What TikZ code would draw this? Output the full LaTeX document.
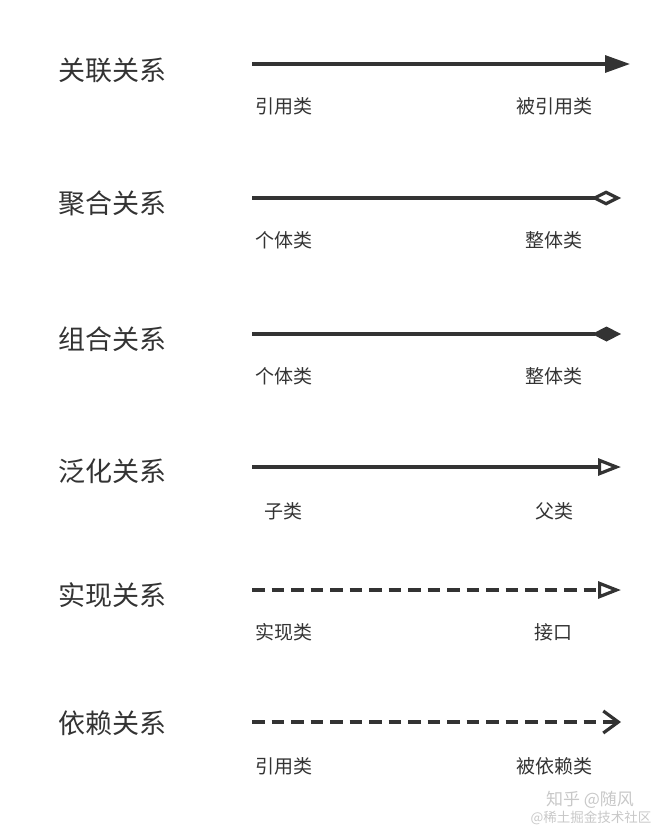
\documentclass[tikz,border=0pt]{standalone}
\usepackage{fontspec}
\setmainfont{Noto Sans CJK SC}
\usetikzlibrary{arrows.meta}
\definecolor{ink}{HTML}{333333}
\definecolor{wm}{HTML}{C8C8C8}
\tikzset{
  title/.style={font=\fontsize{27}{29}\selectfont, text=ink, inner sep=0pt},
  lbl/.style={font=\fontsize{19}{21}\selectfont, text=ink, inner sep=0pt},
  rel/.style={draw=ink, line width=3.2pt},
  dsh/.style={rel, dash pattern=on 12.5pt off 7pt},
  wmark/.style={text=wm, inner sep=0pt}
}
\begin{document}
\begin{tikzpicture}[x=1pt,y=-1pt]
\useasboundingbox (0,0) rectangle (658,830);
% row 1
\node[title] (t1) at (112,70) {关联关系};
\coordinate (s1) at (252,64); \coordinate (e1) at (630,64);
\draw[rel, -{Triangle[length=25pt,width=17pt]}] (s1) -- (e1);
\node[lbl] (l1) at (284,106) {引用类};
\node[lbl] (r1) at (554,106) {被引用类};
% row 2
\node[title] (t2) at (112,203) {聚合关系};
\coordinate (s2) at (252,198); \coordinate (e2) at (621,198);
\draw[rel, -{Diamond[open,length=30pt,width=15pt]}] (s2) -- (e2);
\node[lbl] (l2) at (284,240) {个体类};
\node[lbl] (r2) at (554,240) {整体类};
% row 3
\node[title] (t3) at (112,339) {组合关系};
\coordinate (s3) at (252,334); \coordinate (e3) at (621,334);
\draw[rel, -{Diamond[length=29pt,width=15pt]}] (s3) -- (e3);
\node[lbl] (l3) at (284,376) {个体类};
\node[lbl] (r3) at (554,376) {整体类};
% row 4
\node[title] (t4) at (112,471) {泛化关系};
\coordinate (s4) at (252,467); \coordinate (e4) at (621,467);
\draw[rel, -{Triangle[open,length=23pt,width=17pt]}] (s4) -- (e4);
\node[lbl] (l4) at (283,511) {子类};
\node[lbl] (r4) at (554,511) {父类};
% row 5
\node[title] (t5) at (112,595) {实现关系};
\coordinate (s5) at (252,590); \coordinate (e5) at (621,590);
\draw[dsh, -{Triangle[open,length=23pt,width=17pt]}] (s5) -- (e5);
\node[lbl] (l5) at (284,632) {实现类};
\node[lbl] (r5) at (553,632) {接口};
% row 6
\node[title] (t6) at (112,723) {依赖关系};
\coordinate (s6) at (252,722); \coordinate (e6) at (621,722);
\draw[dsh, -{Straight Barb[length=15pt,width=22pt]}] (s6) -- (e6);
\node[lbl] (l6) at (284,766) {引用类};
\node[lbl] (r6) at (554,766) {被依赖类};
% watermark
\node[wmark, font=\fontsize{17}{19}\selectfont] (w1) at (590,800) {知乎 @随风};
\node[wmark, font=\fontsize{13.5}{15}\selectfont] (w2) at (591,818) {@稀土掘金技术社区};
\end{tikzpicture}
\end{document}
